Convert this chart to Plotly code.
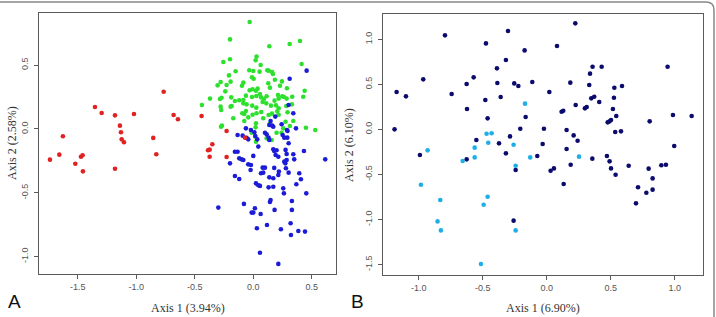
import plotly.graph_objects as go

# ---------------- Panel A data ----------------
red_x = [-1.738, -1.658, -1.627, -1.521, -1.473, -1.459, -1.456, -1.353, -1.296, -1.182,
         -1.182, -1.140, -1.131, -1.125, -1.105, -1.020, -0.855, -0.829, -0.766, -0.681,
         -0.644, -0.442, -0.387, -0.373, -0.373, -0.350, -0.228, -0.228, -0.071]
red_y = [-0.240, -0.201, -0.057, -0.272, -0.217, -0.206, -0.332, 0.172, 0.125, 0.107,
         -0.311, 0.026, -0.026, -0.081, -0.104, 0.117, -0.070, -0.198, 0.292, 0.110,
         0.076, 0.102, -0.167, -0.162, -0.217, -0.120, -0.016, -0.219, -0.068]

green_x = [-0.031, -0.199, 0.137, 0.311, 0.399, -0.256, -0.199, 0.413, 0.020, 0.028,
           0.063, -0.151, -0.208, -0.034, 0.000, 0.054, 0.120, 0.131, 0.160, 0.168,
           -0.011, 0.003, -0.279, -0.194, -0.085, -0.097, 0.128, 0.185, 0.245, -0.305,
           -0.228, 0.288, 0.439, -0.239, -0.031, -0.006, 0.023, 0.037, 0.142, 0.228,
           -0.370, -0.285, -0.271, -0.188, -0.157, -0.120, -0.085, -0.063, -0.011, 0.026,
           0.057, 0.066, 0.091, 0.114, 0.182, 0.211, 0.217, 0.248, 0.262, 0.285,
           0.333, 0.427, -0.439, -0.279, -0.274, -0.194, -0.185, -0.085, -0.057, -0.009,
           0.026, 0.080, 0.111, 0.151, 0.194, 0.217, 0.282, 0.330, -0.094, -0.077,
           -0.063, -0.006, 0.028, 0.068, 0.131, 0.160, 0.205, 0.217, 0.293, -0.268,
           -0.276, -0.077, 0.023, 0.020, 0.142, 0.199, 0.242, 0.313, 0.342, 0.450,
           0.530, 0.017, 0.023, 0.114, 0.157, -0.043, 0.085, 0.256, 0.276, -0.171,
           -0.014]
green_y = [0.838, 0.702, 0.648, 0.666, 0.689, 0.525, 0.546, 0.509, 0.538, 0.567,
           0.501, 0.452, 0.420, 0.460, 0.454, 0.449, 0.460, 0.457, 0.446, 0.431,
           0.405, 0.394, 0.368, 0.371, 0.363, 0.339, 0.358, 0.386, 0.373, 0.342,
           0.345, 0.319, 0.300, 0.295, 0.303, 0.311, 0.300, 0.316, 0.324, 0.339,
           0.238, 0.235, 0.245, 0.248, 0.219, 0.225, 0.227, 0.261, 0.251, 0.258,
           0.274, 0.248, 0.235, 0.256, 0.222, 0.266, 0.238, 0.256, 0.251, 0.238,
           0.253, 0.253, 0.188, 0.175, 0.149, 0.175, 0.180, 0.201, 0.193, 0.183,
           0.167, 0.211, 0.201, 0.183, 0.185, 0.162, 0.180, 0.193, 0.123, 0.117,
           0.141, 0.112, 0.123, 0.133, 0.110, 0.120, 0.138, 0.112, 0.131, 0.026,
           0.018, 0.063, 0.044, 0.013, 0.044, -0.029, -0.029, 0.023, 0.063, 0.010,
           -0.008, -0.060, -0.099, -0.073, -0.086, 0.091, 0.084, 0.005, 0.057, 0.084,
           -0.029]

blue_x = [0.456, 0.311, 0.342, 0.302, 0.188, 0.148, 0.137, 0.162, 0.171, 0.242,
          0.288, 0.293, 0.365, -0.063, -0.020, 0.009, -0.134, -0.091, -0.057, -0.043,
          0.017, 0.034, 0.100, 0.114, 0.131, 0.137, 0.251, 0.265, 0.291, 0.302,
          0.043, 0.171, 0.179, 0.199, 0.276, 0.285, 0.342, 0.350, 0.433, 0.615,
          -0.157, -0.134, -0.120, -0.100, -0.085, 0.000, -0.199, -0.043, -0.020, 0.191,
          0.214, 0.265, 0.285, 0.274, 0.080, 0.100, 0.179, 0.279, -0.023, 0.219,
          0.214, 0.302, 0.393, -0.157, -0.120, 0.066, 0.085, 0.137, 0.171, 0.407,
          0.023, 0.043, 0.057, 0.131, 0.171, 0.368, 0.256, 0.262, 0.453, 0.148,
          0.142, 0.330, -0.299, -0.080, 0.014, 0.000, -0.014, 0.063, 0.182, 0.330,
          0.117, 0.031, 0.236, 0.319, 0.322, 0.385, 0.442, 0.057, 0.214]
blue_y = [0.457, 0.394, 0.123, 0.188, 0.097, 0.063, 0.031, 0.026, 0.018, 0.037,
          -0.008, -0.016, 0.005, 0.005, -0.008, -0.026, -0.047, -0.052, -0.070, -0.081,
          -0.055, -0.081, -0.029, -0.042, -0.068, -0.086, -0.047, -0.068, -0.068, -0.112,
          -0.138, -0.159, -0.172, -0.167, -0.164, -0.196, -0.198, -0.238, -0.172, -0.238,
          -0.178, -0.178, -0.230, -0.238, -0.243, -0.211, -0.269, -0.277, -0.282, -0.204,
          -0.217, -0.256, -0.243, -0.269, -0.303, -0.303, -0.305, -0.308, -0.321, -0.334,
          -0.360, -0.342, -0.347, -0.368, -0.392, -0.347, -0.342, -0.379, -0.386, -0.394,
          -0.426, -0.441, -0.446, -0.457, -0.452, -0.433, -0.465, -0.504, -0.504, -0.556,
          -0.572, -0.564, -0.616, -0.587, -0.621, -0.655, -0.655, -0.666, -0.634, -0.634,
          -0.752, -0.778, -0.786, -0.739, -0.830, -0.799, -0.804, -0.969, -1.057]

# ---------------- Panel B data ----------------
navy_x = [-1.188, -1.172, -1.099, -0.964, -0.990, -0.794, -0.742, -0.622, -0.625, -0.570,
          -0.625, -0.549, -0.474, -0.479, -0.461, -0.388, -0.385, -0.359, -0.372, -0.318,
          -0.302, -0.318, -0.286, -0.253, -0.221, -0.258, -0.242, -0.172, -0.164, -0.206,
          -0.112, -0.073, -0.031, -0.021, 0.021, 0.031, 0.057, 0.081, 0.117, 0.130,
          0.133, 0.156, 0.156, 0.185, 0.188, 0.211, 0.227, 0.224, 0.242, 0.299,
          0.313, 0.333, 0.339, 0.359, 0.349, 0.372, 0.357, 0.411, 0.430, 0.471,
          0.477, 0.492, 0.503, 0.492, 0.503, 0.518, 0.526, 0.529, 0.536, 0.544,
          0.539, 0.581, 0.589, 0.641, 0.698, 0.714, 0.779, 0.797, 0.805, 0.828,
          0.828, 0.896, 0.932, 0.945, 0.987, 0.997, 1.133]
navy_y = [0.000, 0.414, 0.366, 0.555, -0.285, 1.043, 0.392, 0.226, 0.503, 0.577,
          -0.333, -0.118, 0.954, 0.325, 0.122, 0.677, 0.514, 0.359, -0.155, 0.769,
          1.091, -0.266, -0.078, 0.510, 0.481, -1.013, -0.451, 0.876, 0.137, 0.007,
          0.525, -0.296, -0.163, 0.007, 0.414, -0.459, -0.433, 0.925, 0.196, 0.207,
          -0.607, -0.007, -0.218, 0.518, -0.392, -0.067, 0.270, 1.176, -0.126, 0.233,
          0.248, 0.492, 0.618, 0.695, 0.344, 0.362, -0.325, 0.303, 0.695, -0.296,
          0.078, 0.089, 0.104, -0.355, -0.433, 0.226, 0.351, 0.462, -0.030, 0.148,
          -0.503, -0.022, 0.481, -0.403, -0.821, -0.643, -0.703, -0.436, 0.089, -0.544,
          -0.669, -0.399, -0.392, 0.695, 0.159, -0.185, 0.148]

cyan_x = [-0.169, -0.930, -0.982, -0.831, -0.852, -0.826, -0.656, -0.562, -0.562, -0.469,
          -0.430, -0.456, -0.492, -0.461, -0.513, -0.258, -0.242, -0.242, -0.128, 0.253]
cyan_y = [0.285, -0.233, -0.614, -0.784, -1.021, -1.121, -0.351, -0.203, -0.311, -0.048,
          -0.044, -0.148, -0.836, -0.747, -1.494, -0.170, -0.403, -1.121, -0.311, -0.303]

xticks_a = [-1.5, -1.0, -0.5, 0.0, 0.5]
yticks_a = [-1.0, -0.5, 0.0, 0.5]
xticks_b = [-1.0, -0.5, 0.0, 0.5, 1.0]
yticks_b = [-1.5, -1.0, -0.5, 0.0, 0.5, 1.0]

W, H = 716, 317


def px(x):
    return x / W


def py(y):
    return 1 - y / H


fig = go.Figure()
mk = dict(size=4.6, line=dict(width=0))
fig.add_trace(go.Scatter(x=green_x, y=green_y, mode="markers", marker=dict(color="#2ee02e", **mk),
                         xaxis="x", yaxis="y", showlegend=False))
fig.add_trace(go.Scatter(x=blue_x, y=blue_y, mode="markers", marker=dict(color="#1c1cd8", **mk),
                         xaxis="x", yaxis="y", showlegend=False))
fig.add_trace(go.Scatter(x=red_x, y=red_y, mode="markers", marker=dict(color="#e02222", **mk),
                         xaxis="x", yaxis="y", showlegend=False))
fig.add_trace(go.Scatter(x=navy_x, y=navy_y, mode="markers", marker=dict(color="#0b0b6e", **mk),
                         xaxis="x2", yaxis="y2", showlegend=False))
fig.add_trace(go.Scatter(x=cyan_x, y=cyan_y, mode="markers", marker=dict(color="#1eaee8", **mk),
                         xaxis="x2", yaxis="y2", showlegend=False))

tickfont = dict(family="Liberation Sans, Arial, sans-serif", size=9, color="#555555")
axcommon = dict(showgrid=False, zeroline=False, showline=True, mirror=True, linecolor="#5a5a5a",
                linewidth=1, ticks="outside", ticklen=4, tickcolor="#5a5a5a", tickfont=tickfont)

fig.update_layout(
    width=W, height=H,
    margin=dict(l=0, r=0, t=0, b=0),
    paper_bgcolor="white", plot_bgcolor="white",
    xaxis=dict(domain=[px(39.3), px(336)], range=[-1.829, 0.707], tickvals=xticks_a,
               ticktext=["%.1f" % v for v in xticks_a], anchor="y", **axcommon),
    yaxis=dict(domain=[py(274), py(12.7)], range=[-1.136, 0.911], tickvals=yticks_a,
               ticktext=["%.1f" % v for v in yticks_a], tickangle=-90, anchor="x",
               ticklabelstandoff=3, **axcommon),
    xaxis2=dict(domain=[px(383.3), px(703.3)], range=[-1.276, 1.224], tickvals=xticks_b,
                ticktext=["%.1f" % v for v in xticks_b], anchor="y2", **axcommon),
    yaxis2=dict(domain=[py(275), py(14)], range=[-1.616, 1.280], tickvals=yticks_b,
                ticktext=["%.1f" % v for v in yticks_b], tickangle=-90, anchor="x2",
                ticklabelstandoff=3, **axcommon),
)

titlefont = dict(family="Liberation Serif, Times New Roman, serif", size=12, color="#333333")
ann = [
    dict(text="Axis 1 (3.94%)", x=px(188), y=py(308), font=titlefont),
    dict(text="Axis 2 (2.58%)", x=px(12), y=py(143), font=titlefont, textangle=-90),
    dict(text="Axis 1 (6.90%)", x=px(543), y=py(308), font=titlefont),
    dict(text="Axis 2 (6.10%)", x=px(349), y=py(145), font=titlefont, textangle=-90),
    dict(text="A", x=px(15), y=py(301), font=dict(family="Liberation Sans, Arial, sans-serif", size=19, color="#111111")),
    dict(text="B", x=px(357), y=py(301), font=dict(family="Liberation Sans, Arial, sans-serif", size=19, color="#111111")),
]
for a in ann:
    a.update(xref="paper", yref="paper", showarrow=False, xanchor="center", yanchor="middle")
fig.update_layout(annotations=ann)

# outer frame with rounded corner at top-right
path = "M %f,%f L %f,%f Q %f,%f %f,%f L %f,%f" % (
    px(0), py(2), px(706), py(2), px(714), py(2), px(714), py(10), px(714), py(317))
fig.add_shape(type="path", path=path, xref="paper", yref="paper",
              line=dict(color="#888888", width=1.5))

fig.write_html("out.html")
